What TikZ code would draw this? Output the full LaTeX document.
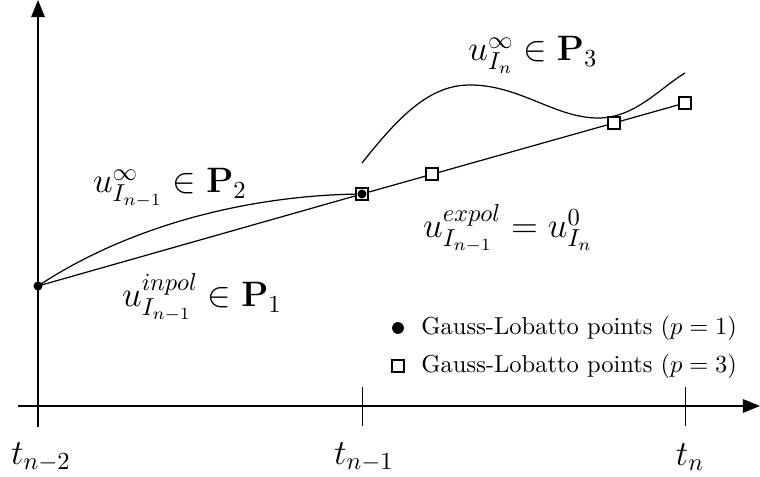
\documentclass[tikz,border=0pt]{standalone}
\usetikzlibrary{arrows.meta}
\begin{document}
\begin{tikzpicture}[x=0.408pt,y=-0.408pt,
  axis/.style={line width=0.8pt,-{Triangle[length=7pt,width=5.5pt]}},
  tick/.style={line width=0.4pt},
  curve/.style={line width=0.5pt},
  gldot/.style={circle,fill=black,inner sep=0pt,minimum size=3.7pt},
  legdot/.style={circle,fill=black,inner sep=0pt,minimum size=4.8pt},
  glsq/.style={draw=black,line width=0.85pt,fill=white,inner sep=0pt,minimum size=4.9pt},
  lab/.style={inner sep=0pt,anchor=base,font=\Large},
  tlab/.style={font=\Large,inner sep=0pt}]
\useasboundingbox (0,0) rectangle (760,477);
% axes
\coordinate (ybot) at (38,427);
\coordinate (ytop) at (38,0);
\coordinate (xl) at (18,406);
\coordinate (xr) at (760,406);
\draw[axis] (ybot) -- (ytop);
\draw[axis] (xl) -- (xr);
% ticks
\coordinate (k1a) at (362,387); \coordinate (k1b) at (362,426);
\coordinate (k2a) at (685,387); \coordinate (k2b) at (685,426);
\draw[tick] (k1a) -- (k1b);
\draw[tick] (k2a) -- (k2b);
\node[tlab] (t0) at (41,457) {$t_{n-2}$};
\node[tlab] (t1) at (364,457) {$t_{n-1}$};
\node[tlab] (t2) at (690,457) {$t_n$};
% points
\coordinate (A) at (38,286);
\coordinate (B) at (362,194);
\coordinate (C) at (432,174);
\coordinate (D) at (614,123);
\coordinate (E) at (685,103);
\coordinate (U0) at (362,163);
\coordinate (U1) at (685,73);
% curves
\draw[curve] (A) .. controls (130,225) and (250,195) .. (B);
\draw[curve] (A) -- (B) -- (E);
\draw[curve] (U0) .. controls (400,115) and (430,85) .. (470,85)
  .. controls (520,85) and (555,118) .. (598,118)
  .. controls (635,118) and (660,88) .. (U1);
% markers
\node[glsq] (sB) at (B) {};
\node[gldot] (dB) at (B) {};
\node[gldot] (dA) at (A) {};
\node[glsq] (sC) at (C) {};
\node[glsq] (sD) at (D) {};
\node[glsq] (sE) at (E) {};
% labels
\node[lab] (l1) at (533,61) {$u^{\infty}_{I_n}\in\mathbf{P}_3$};
\node[lab] (l2) at (170,193) {$u^{\infty}_{I_{n-1}}\in\mathbf{P}_2$};
\node[lab] (l3) at (508,238) {$u^{expol}_{I_{n-1}}=u^{0}_{I_n}$};
\node[lab] (l4) at (202,307) {$u^{inpol}_{I_{n-1}}\in\mathbf{P}_1$};
% legend
\node[legdot] (g1) at (398,328) {};
\node[glsq] (g2) at (398,366) {};
\node[anchor=west,inner sep=0pt] (g1t) at (421,328) {Gauss-Lobatto points ($p=1$)};
\node[anchor=west,inner sep=0pt] (g2t) at (421,366) {Gauss-Lobatto points ($p=3$)};
\end{tikzpicture}
\end{document}
